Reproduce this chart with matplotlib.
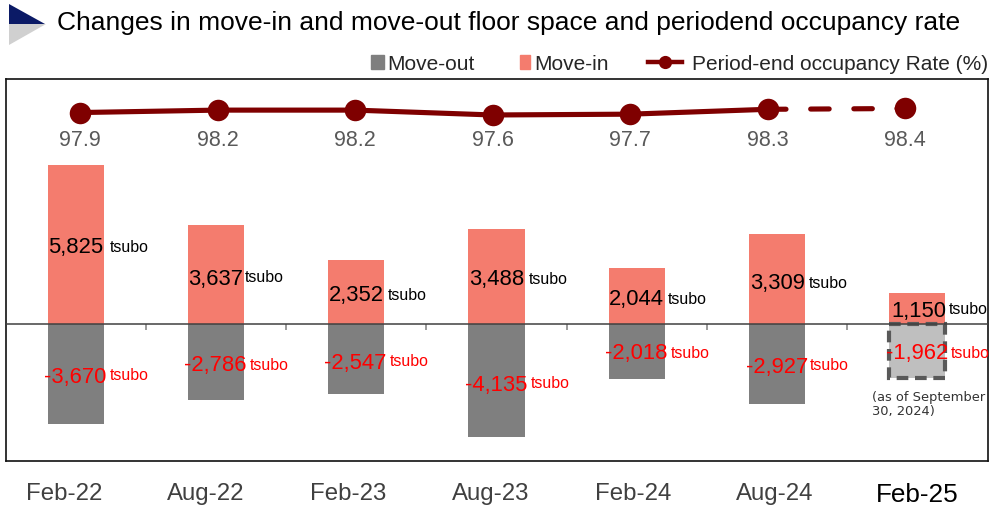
import matplotlib
matplotlib.use("Agg")
import matplotlib.pyplot as plt
from matplotlib.lines import Line2D
from matplotlib.patches import Patch, Polygon

plt.rcParams['font.family'] = ['Liberation Sans', 'DejaVu Sans']

# ---- data ----
periods = ['Feb-22', 'Aug-22', 'Feb-23', 'Aug-23', 'Feb-24', 'Aug-24', 'Feb-25']
move_in = [5825, 3637, 2352, 3488, 2044, 3309, 1150]
move_out = [-3670, -2786, -2547, -4135, -2018, -2927, -1962]
occupancy = [97.9, 98.2, 98.2, 97.6, 97.7, 98.3, 98.4]
title = 'Changes in move-in and move-out floor space and periodend occupancy rate'
note = '(as of September\n30, 2024)'

# ---- label placement (pixels in the 991x507 image) ----
in_val_x = [75.5, 216, 356, 496.5, 636.5, 777.5, 918.5]
in_val_y = [248, 279, 295, 280, 299, 284, 311]
in_unit_x = [110, 245, 388, 529, 668, 809, 949]
in_unit_y = [248, 277, 295, 279, 299, 283, 309]
out_val_x = [75, 215.5, 355.5, 496.5, 636.5, 777, 917]
out_val_y = [377, 365, 363, 385, 353, 367, 354]
out_unit_x = [110, 250, 390, 531, 671, 810, 951]
out_unit_y = [376, 366, 362, 384, 353, 366, 354]

W, H = 991, 507
fig = plt.figure(figsize=(W / 100, H / 100), dpi=100, facecolor='white')
fx = lambda x: x / W
fy = lambda y: 1 - y / H

BOX = [fx(5.5), fy(461), (987.5 - 5.5) / W, (461 - 79) / H]
BASE_Y, PX_PER_UNIT = 324.3, 0.0273

# ---- bars ----
ax = fig.add_axes(BOX)
ax.set_xlim(-0.503, 6.503)
ax.set_ylim(-(461 - BASE_Y) / PX_PER_UNIT, (BASE_Y - 79) / PX_PER_UNIT)
xs = list(range(len(periods)))
C_IN, C_OUT = '#F47C6E', '#7F7F7F'
ax.bar(xs, move_in, width=0.4, color=C_IN, zorder=2)
ax.bar(xs[:-1], move_out[:-1], width=0.4, color=C_OUT, zorder=2)
ax.bar(xs[-1:], move_out[-1:], width=0.4, facecolor='#BFBFBF', edgecolor='#595959',
       linewidth=3.0, linestyle=(0, (2.8, 1.6)), zorder=2)
ax.axhline(0, color='#404040', lw=1.1, zorder=3)
ax.vlines([i + 0.5 for i in xs[:-1]], -220, 0, color='#7F7F7F', lw=1.1, zorder=1)
ax.set_xticks([])
ax.set_yticks([])
for s in ax.spines.values():
    s.set_linewidth(1.2)
    s.set_color('#111111')

# ---- occupancy line (own horizontal spacing, as in the reference) ----
axl = fig.add_axes(BOX, facecolor='none')
axl.set_xlim(-0.542, 6.6)
axl.set_ylim(54.9, 102.04)
axl.axis('off')
C_LINE = '#7F0000'
axl.plot(xs[:6], occupancy[:6], color=C_LINE, lw=3.7, zorder=4, solid_capstyle='round')
axl.plot(xs[5:], occupancy[5:], color=C_LINE, lw=3.7, zorder=4,
         linestyle=(0, (3.6, 4.8)), dash_capstyle='round')
axl.plot(xs, occupancy, linestyle='none', marker='o', ms=15.5, color=C_LINE, mew=0, zorder=5)
label_tf = axl.get_xaxis_transform()
for x, v in zip(xs, occupancy):
    axl.text(x, 1 - (140 - 79) / (461 - 79), f'{v:.1f}', transform=label_tf,
             ha='center', va='center', fontsize=15.5, color='#595959')

# ---- category labels (own horizontal spacing) ----
axc = fig.add_axes(BOX, facecolor='none')
axc.set_xlim((5.5 - 64) / 142.2, (987.5 - 64) / 142.2)
axc.set_yticks([])
for s in axc.spines.values():
    s.set_visible(False)
axc.set_xticks(xs, periods)
axc.tick_params(axis='x', length=0, pad=15.5, labelsize=17.3, labelcolor='#404040')
last = axc.get_xticklabels()[-1]
last.set_fontsize(18.8)
last.set_color('black')

# ---- value labels ----
VAL_FS, UNIT_FS = 15.8, 11.4
for i in xs:
    fig.text(fx(in_val_x[i]), fy(in_val_y[i]), f'{move_in[i]:,}', ha='center', va='center',
             fontsize=VAL_FS, color='black', zorder=6)
    fig.text(fx(in_unit_x[i]), fy(in_unit_y[i]), 'tsubo', ha='left', va='center',
             fontsize=UNIT_FS, color='black', zorder=6)
    fig.text(fx(out_val_x[i]), fy(out_val_y[i]), f'{move_out[i]:,}', ha='center', va='center',
             fontsize=VAL_FS, color='#FF0000', zorder=6)
    fig.text(fx(out_unit_x[i]), fy(out_unit_y[i]), 'tsubo', ha='left', va='center',
             fontsize=UNIT_FS, color='#FF0000', zorder=6)

fig.text(fx(872), fy(404), note, ha='left', va='center', fontsize=9.35, color='#333333',
         family=['DejaVu Sans'], linespacing=1.1)

# ---- title + icon ----
fig.text(fx(57), fy(23), title, ha='left', va='center', fontsize=19.03, color='black')
fig.add_artist(Polygon([(fx(9), fy(4)), (fx(45), fy(24)), (fx(9), fy(24))],
                       closed=True, fc='#0B1A66', ec='none', transform=fig.transFigure))
fig.add_artist(Polygon([(fx(9), fy(24)), (fx(46), fy(24)), (fx(9), fy(45))],
                       closed=True, fc='#D0D0D0', ec='none', transform=fig.transFigure))

# ---- legend ----
LEG_FS = 15.05
entries = [
    (Patch(color=C_OUT), 'Move-out', 371, 0.6),
    (Patch(color=C_IN), 'Move-in', 520, 0.5),
    (Line2D([], [], color=C_LINE, lw=3.2, marker='o', ms=9.5, mew=0), 'Period-end occupancy Rate (%)', 648, 1.62),
]
for handle, label, x, hl in entries:
    fig.legend(handles=[handle], labels=[label], loc='center left',
               bbox_to_anchor=(fx(x), fy(64)), frameon=False, fontsize=LEG_FS,
               borderpad=0, borderaxespad=0, handlelength=hl, handleheight=0.6,
               handletextpad=0.2 if hl < 1 else 0.5, labelcolor='#262626')

fig.savefig('out.png', dpi=100)
